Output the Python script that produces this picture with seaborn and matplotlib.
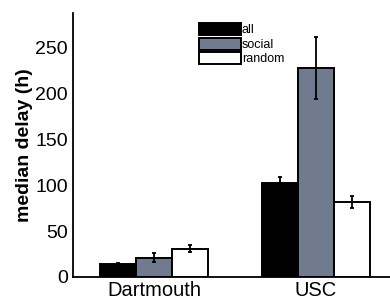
import numpy as np
import pandas as pd
import matplotlib
matplotlib.use("Agg")
import matplotlib.pyplot as plt
import seaborn as sns

# data
sites = ["Dartmouth", "USC"]
groups = ["all", "social", "random"]
median_all = [14, 103]
median_social = [21, 228]
median_random = [31, 82]
err_all = [1.5, 5.5]
err_social = [5, 34]
err_random = [4, 6.5]

colors = ["#000000", "#707b8f", "#ffffff"]

sns.set_theme(style="white")
plt.rcParams["font.family"] = ["Liberation Sans", "DejaVu Sans"]
plt.rcParams["text.color"] = "black"

df = pd.DataFrame({
    "site": sites * 3,
    "group": np.repeat(groups, len(sites)),
    "delay": median_all + median_social + median_random,
})
errs = [err_all, err_social, err_random]

fig = plt.figure(figsize=(3.9, 3.01), dpi=100)
ax = fig.add_axes([0.187, 0.08, 0.813, 0.877])

sns.barplot(data=df, x="site", y="delay", hue="group", hue_order=groups,
            palette=colors, width=0.67, gap=0, errorbar=None,
            edgecolor="black", linewidth=1.4, saturation=1, ax=ax)

# error bars on top of each bar
for cont, e in zip(ax.containers, errs):
    xs = [b.get_x() + b.get_width() / 2 for b in cont]
    ys = [b.get_height() for b in cont]
    ax.errorbar(xs, ys, yerr=e, fmt="none", ecolor="black",
                elinewidth=1.3, capsize=1.5, capthick=1.3, zorder=5)

ax.set_xlim(-0.5, 1.457)
ax.set_ylim(0, 288)
ax.set_yticks([0, 50, 100, 150, 200, 250])
ax.set_xlabel("")
ax.set_ylabel("median delay (h)", fontsize=14, fontweight="bold", labelpad=2,
              color="black")
ax.tick_params(axis="y", length=0, labelsize=14, pad=3.5, labelcolor="black")
ax.tick_params(axis="x", direction="in", length=2, width=0.6, color="gray",
               labelsize=14.5, pad=3, labelcolor="black")
for s in ["top", "right"]:
    ax.spines[s].set_visible(False)
for s in ["left", "bottom"]:
    ax.spines[s].set_color("black")
    ax.spines[s].set_linewidth(1.3)

leg = ax.legend(loc="upper left", bbox_to_anchor=(0.383, 0.98), frameon=False,
                fontsize=9, handlelength=3.3, handleheight=1.1,
                handletextpad=0.1, labelspacing=0.1, borderaxespad=0)

fig.savefig("out.png", dpi=100)
